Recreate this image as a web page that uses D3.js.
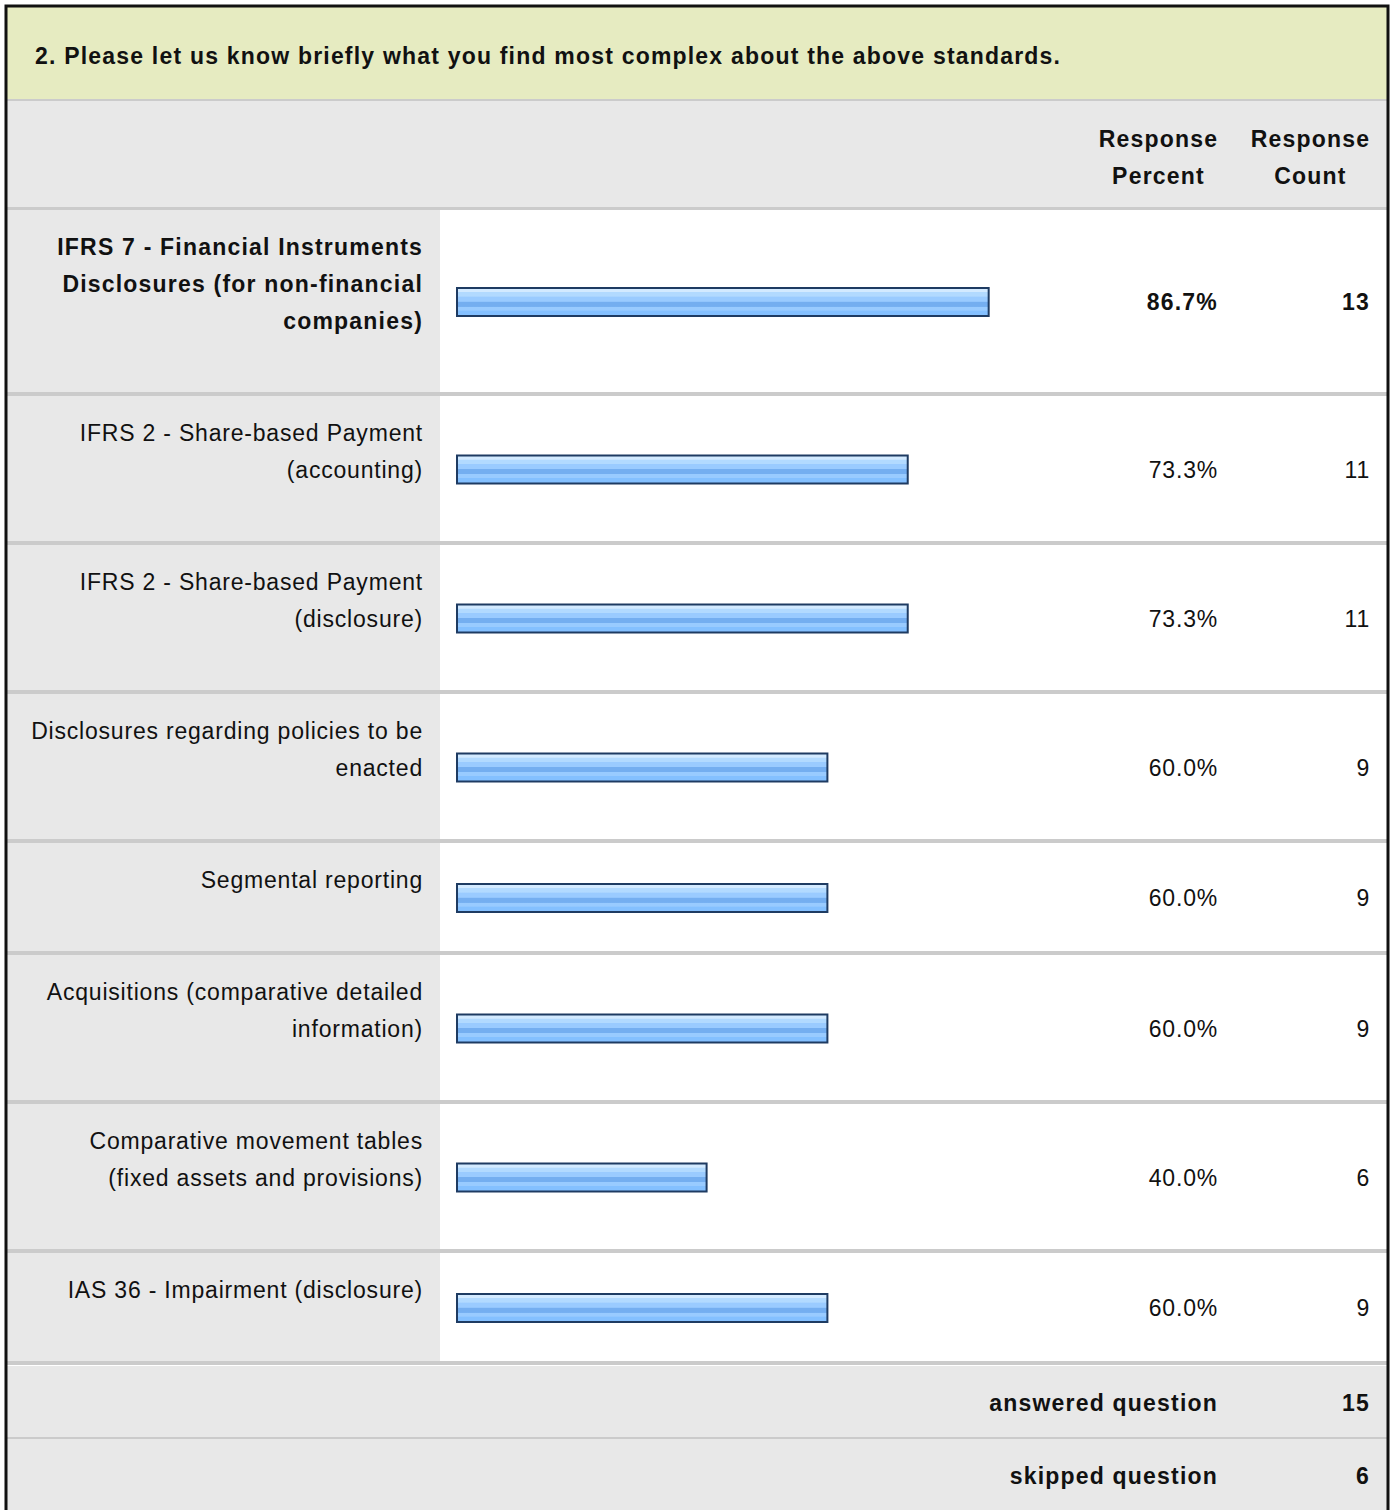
<!DOCTYPE html>
<html>
<head>
<meta charset="utf-8">
<script src="https://cdn.jsdelivr.net/npm/d3@7"></script>
<style>
  body { margin: 0; background: #fff; }
  text { font-family: "Liberation Sans", Arial, sans-serif; fill: #111; font-size: 23px; }
  .b { font-weight: bold; letter-spacing: 1.2px; }
  .r { font-weight: normal; letter-spacing: 0.8px; }
</style>
</head>
<body>
<div id="chart"></div>
<script>
// survey data
const question = "2. Please let us know briefly what you find most complex about the above standards.";
const answers = [
  "IFRS 7 - Financial Instruments\nDisclosures (for non-financial\ncompanies)",
  "IFRS 2 - Share-based Payment\n(accounting)",
  "IFRS 2 - Share-based Payment\n(disclosure)",
  "Disclosures regarding policies to be\nenacted",
  "Segmental reporting",
  "Acquisitions (comparative detailed\ninformation)",
  "Comparative movement tables\n(fixed assets and provisions)",
  "IAS 36 - Impairment (disclosure)"
];
const percents = [86.7, 73.3, 73.3, 60.0, 60.0, 60.0, 40.0, 60.0];
const counts = [13, 11, 11, 9, 9, 9, 6, 9];
const answered = 15;
const skipped = 6;

const W = 1394, H = 1510;
const left = 7, right = 1387;
const labelRight = 440;
const pctX = 1218, cntX = 1370;
const lh = 37;

const svg = d3.select("#chart").append("svg")
  .attr("width", W).attr("height", H);

// gradient for the bars
const grad = svg.append("defs").append("linearGradient")
  .attr("id", "barGrad").attr("x1", 0).attr("x2", 0).attr("y1", 0).attr("y2", 1);
[[0, "#d3eaff"], [0.14, "#d3eaff"], [0.15, "#b2daff"], [0.3, "#b2daff"], [0.31, "#9acbff"],
 [0.48, "#9acbff"], [0.49, "#74aef0"], [0.66, "#74aef0"], [0.67, "#99cbff"], [0.8, "#99cbff"],
 [0.81, "#84c0ff"], [1, "#84c0ff"]].forEach(s =>
  grad.append("stop").attr("offset", s[0]).attr("stop-color", s[1]));

// title band
svg.append("rect").attr("x", left).attr("y", 7).attr("width", right - left).attr("height", 92)
  .attr("fill", "#e6ebc1");
svg.append("text").attr("class", "b").attr("x", 35).attr("y", 56).attr("dy", "0.35em")
  .text(question);
svg.append("rect").attr("x", left).attr("y", 99).attr("width", right - left).attr("height", 2)
  .attr("fill", "#cbcbcb");

// header row
svg.append("rect").attr("x", left).attr("y", 101).attr("width", right - left).attr("height", 106)
  .attr("fill", "#e8e8e8");
[["Response", "Percent", (pctX + 1099) / 2], ["Response", "Count", (cntX + 1251) / 2]].forEach(h => {
  const t = svg.append("text").attr("class", "b").attr("text-anchor", "middle");
  t.append("tspan").attr("x", h[2]).attr("y", 139).attr("dy", "0.35em").text(h[0]);
  t.append("tspan").attr("x", h[2]).attr("y", 176).attr("dy", "0.35em").text(h[1]);
});
svg.append("rect").attr("x", left).attr("y", 207).attr("width", right - left).attr("height", 3)
  .attr("fill", "#cbcbcb");

// row layout from the number of label lines
const rows = [];
let y0 = 210;
answers.forEach((a, i) => {
  const lines = a.split("\n");
  const h = 71 + lines.length * lh;
  rows.push({label: lines, pct: percents[i], count: counts[i], top: y0, h: h, bold: i === 0});
  y0 += h + 4;
});

const x = d3.scaleLinear().domain([0, 100]).range([466, 1070]);
const barX = 456;

const g = svg.selectAll("g.row").data(rows).join("g").attr("class", "row");

g.append("rect").attr("x", left).attr("y", d => d.top).attr("width", labelRight - left)
  .attr("height", d => d.h).attr("fill", "#e8e8e8");
g.append("rect").attr("x", labelRight).attr("y", d => d.top).attr("width", right - labelRight)
  .attr("height", d => d.h).attr("fill", "#fff");
g.append("rect").attr("x", left).attr("y", d => d.top + d.h).attr("width", right - left)
  .attr("height", 4).attr("fill", "#cbcbcb");

g.each(function(d) {
  const t = d3.select(this).append("text").attr("text-anchor", "end")
    .attr("class", d.bold ? "b" : "r");
  d.label.forEach((l, j) => {
    t.append("tspan").attr("x", 423).attr("y", d.top + 37 + j * lh).attr("dy", "0.35em").text(l);
  });
});

g.append("rect")
  .attr("x", barX + 1)
  .attr("y", d => d.top + d.h / 2 - 13)
  .attr("width", d => x(d.pct) - barX - 2)
  .attr("height", 28)
  .attr("fill", "url(#barGrad)")
  .attr("stroke", "#1e3b62").attr("stroke-width", 2);

g.append("text").attr("x", pctX).attr("y", d => d.top + d.h / 2 + 1).attr("dy", "0.35em")
  .attr("text-anchor", "end").attr("class", d => d.bold ? "b" : "r")
  .text(d => d.pct.toFixed(1) + "%");
g.append("text").attr("x", cntX).attr("y", d => d.top + d.h / 2 + 1).attr("dy", "0.35em")
  .attr("text-anchor", "end").attr("class", d => d.bold ? "b" : "r")
  .text(d => d.count);

// footer rows
const fTop = y0 + 1;
const footer = [["answered question", answered, fTop, 71], ["skipped question", skipped, fTop + 73, 80]];
footer.forEach((f, i) => {
  svg.append("rect").attr("x", left).attr("y", f[2]).attr("width", right - left).attr("height", f[3])
    .attr("fill", "#e8e8e8");
  if (i === 0) svg.append("rect").attr("x", left).attr("y", f[2] + f[3]).attr("width", right - left)
    .attr("height", 2).attr("fill", "#cbcbcb");
  svg.append("text").attr("class", "b").attr("x", pctX).attr("y", f[2] + 37).attr("dy", "0.35em")
    .attr("text-anchor", "end").text(f[0]);
  svg.append("text").attr("class", "b").attr("x", cntX).attr("y", f[2] + 37).attr("dy", "0.35em")
    .attr("text-anchor", "end").text(f[1]);
});

// outer frame
svg.append("rect").attr("x", 6).attr("y", 6).attr("width", 1382).attr("height", 1520)
  .attr("fill", "none").attr("stroke", "#111").attr("stroke-width", 3);
</script>
</body>
</html>
